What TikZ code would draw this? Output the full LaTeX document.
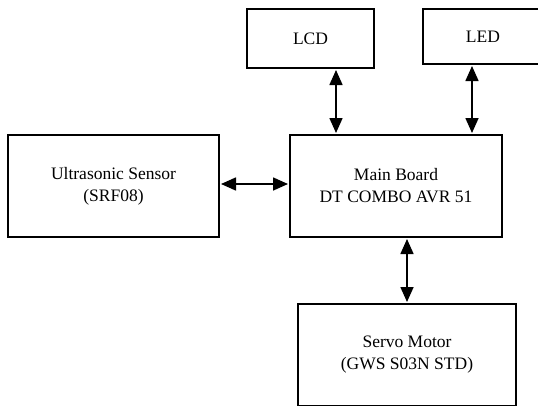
\documentclass[tikz,border=0pt]{standalone}
\usepackage{fontspec}
\setmainfont{Liberation Serif}
\usetikzlibrary{arrows.meta}
\begin{document}
\begin{tikzpicture}[x=1pt,y=-1pt,
  blk/.style={draw=black, line width=1.8pt, inner sep=0pt, outer sep=0pt, align=center,
    font=\fontsize{17.5}{22}\selectfont},
  arr/.style={line width=1.6pt, shorten <=2pt, shorten >=2pt,
    {Triangle[length=15pt,width=13pt]}-{Triangle[length=15pt,width=13pt]}}]
\useasboundingbox (0,0) rectangle (538,405);
\clip (0,0) rectangle (538,405);
\node[blk, minimum width=127pt, minimum height=59pt] (lcd) at (310.5,38.5) {LCD};
\node[blk, minimum width=120pt, minimum height=55pt] (led) at (483,36.5) {LED};
\node[blk, minimum width=212pt, minimum height=102pt] (main) at (396,186) {Main Board\\DT COMBO AVR 51};
\node[blk, minimum width=211pt, minimum height=102pt] (ultra) at (113.5,186) {Ultrasonic Sensor\\(SRF08)};
\node[blk, minimum width=218pt, minimum height=102pt] (servo) at (407,355) {Servo Motor\\(GWS S03N STD)};
\draw[arr] ([xshift=25.5pt]lcd.south) -- ([xshift=25.5pt]lcd.south |- main.north);
\draw[arr] ([xshift=-11pt]led.south) -- ([xshift=-11pt]led.south |- main.north);
\draw[arr] ([yshift=2pt]ultra.east) -- ([yshift=2pt]main.west);
\draw[arr] (servo.north) -- (servo.north |- main.south);
\end{tikzpicture}
\end{document}
